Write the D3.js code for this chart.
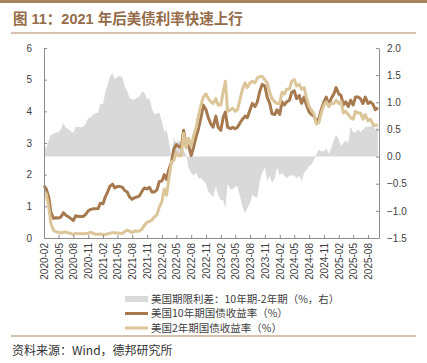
<!DOCTYPE html>
<html>
<head>
<meta charset="utf-8">
<script src="https://cdn.jsdelivr.net/npm/d3@7"></script>
<style>
  body { margin: 0; background: #fff; }
  svg { display: block; font-family: "Liberation Sans", Arial, "Noto Sans CJK SC", sans-serif; }
</style>
</head>
<body>
<svg id="chart" width="427" height="363"></svg>
<script>
// 半月度取值：2020-02-01 起，每月 1 日和 15 日，至 2025-10-01
const startYear = 2020, startMonth = 1, pointCount = 137

const us10y = [
  1.65, 1.55, 1.30, 0.80, 0.62, 0.64, 0.63, 0.66, 0.80, 0.72, 0.67, 0.62, 0.55, 0.70, 0.68, 0.68, 0.68, 0.74, 0.86, 0.90, 0.92, 0.92,
  0.93, 1.10, 1.08, 1.30, 1.45, 1.63, 1.70, 1.58, 1.63, 1.63, 1.60, 1.50, 1.45, 1.30, 1.22, 1.27, 1.30, 1.33, 1.48, 1.58, 1.55, 1.60, 1.45, 1.45,
  1.52, 1.78, 1.80, 2.00, 1.85, 2.15, 2.40, 2.80, 2.95, 2.90, 2.85, 3.40, 2.90, 2.95, 2.60, 2.85, 3.20, 3.45, 3.80, 4.20, 4.05, 3.80, 3.60, 3.50,
  3.85, 3.50, 3.40, 3.80, 3.98, 3.50, 3.45, 3.50, 3.45, 3.50, 3.65, 3.75, 3.85, 3.80, 4.05, 4.25, 4.15, 4.30, 4.65, 4.85, 4.80, 4.45, 4.25, 3.92,
  3.90, 4.05, 3.90, 4.30, 4.20, 4.30, 4.35, 4.60, 4.65, 4.40, 4.50, 4.25, 4.45, 4.20, 3.98, 3.90, 3.85, 3.65, 3.78, 4.05, 4.30, 4.45, 4.20, 4.40,
  4.55, 4.75, 4.55, 4.50, 4.20, 4.30, 4.15, 4.35, 4.20, 4.45, 4.45, 4.40, 4.25, 4.45, 4.25, 4.30, 4.22, 4.05, 4.12
]

const us2y = [
  1.40, 1.40, 1.00, 0.45, 0.23, 0.20, 0.18, 0.16, 0.18, 0.19, 0.16, 0.15, 0.11, 0.15, 0.13, 0.14, 0.13, 0.14, 0.15, 0.18, 0.15, 0.12,
  0.12, 0.13, 0.11, 0.11, 0.13, 0.15, 0.17, 0.16, 0.16, 0.15, 0.14, 0.20, 0.25, 0.22, 0.17, 0.22, 0.21, 0.22, 0.28, 0.40, 0.50, 0.52, 0.57, 0.66,
  0.73, 0.97, 1.16, 1.55, 1.35, 1.85, 2.40, 2.45, 2.70, 2.60, 2.60, 3.30, 2.85, 3.15, 2.90, 3.20, 3.50, 3.85, 4.20, 4.45, 4.55, 4.40, 4.30, 4.25,
  4.40, 4.20, 4.20, 4.60, 4.95, 4.00, 4.05, 4.10, 4.00, 4.05, 4.40, 4.70, 4.90, 4.75, 4.90, 4.95, 4.90, 5.05, 5.10, 5.10, 5.00, 4.90, 4.60, 4.40,
  4.30, 4.25, 4.25, 4.60, 4.55, 4.70, 4.70, 4.95, 5.00, 4.80, 4.85, 4.70, 4.75, 4.45, 4.15, 4.05, 3.90, 3.60, 3.65, 3.95, 4.20, 4.30, 4.15, 4.25,
  4.25, 4.35, 4.25, 4.30, 3.95, 4.00, 3.90, 3.80, 3.75, 4.00, 3.95, 3.95, 3.75, 3.90, 3.70, 3.75, 3.60, 3.55, 3.58
]

const spread = [
  0.20, 0.15, 0.30, 0.40, 0.42, 0.45, 0.45, 0.50, 0.62, 0.53, 0.51, 0.47, 0.44, 0.55, 0.55, 0.54, 0.55, 0.60, 0.71, 0.72, 0.77, 0.80,
  0.81, 0.97, 0.97, 1.19, 1.32, 1.48, 1.53, 1.42, 1.47, 1.48, 1.46, 1.30, 1.20, 1.08, 1.05, 1.05, 1.09, 1.11, 1.20, 1.18, 1.05, 1.08, 0.88, 0.79,
  0.79, 0.81, 0.64, 0.45, 0.50, 0.30, 0.00, 0.35, 0.25, 0.30, 0.25, 0.10, 0.05, -0.20, -0.30, -0.35, -0.30, -0.40, -0.40, -0.45, -0.50, -0.65, -0.70, -0.75,
  -0.55, -0.70, -0.80, -0.80, -0.95, -0.50, -0.60, -0.60, -0.55, -0.55, -0.75, -0.93, -1.05, -0.95, -0.85, -0.70, -0.75, -0.75, -0.45, -0.30, -0.20, -0.45, -0.35, -0.48,
  -0.40, -0.20, -0.35, -0.30, -0.35, -0.40, -0.35, -0.35, -0.35, -0.40, -0.35, -0.45, -0.30, -0.25, -0.17, -0.15, -0.05, 0.05, 0.13, 0.10, 0.10, 0.15, 0.05, 0.15,
  0.30, 0.40, 0.30, 0.20, 0.25, 0.30, 0.25, 0.55, 0.45, 0.45, 0.50, 0.45, 0.50, 0.55, 0.55, 0.55, 0.62, 0.50, 0.55
]

const tickLabels = [
  '2020-02', '2020-05', '2020-08', '2020-11', '2021-02', '2021-05', '2021-08', '2021-11',
  '2022-02', '2022-05', '2022-08', '2022-11', '2023-02', '2023-05', '2023-08', '2023-11',
  '2024-02', '2024-05', '2024-08', '2024-11', '2025-02', '2025-05', '2025-08'
]
const leftTicks = [0, 1, 2, 3, 4, 5, 6]
const rightTicks = [-1.5, -1.0, -0.5, 0.0, 0.5, 1.0, 1.5, 2.0]

const legendItems = [
  { label: '美国期限利差：10年期-2年期（%，右）', type: 'area', color: '#d9d9d9' },
  { label: '美国10年期国债收益率（%）', type: 'line', color: '#a67a4e' },
  { label: '美国2年期国债收益率（%）', type: 'line', color: '#dcc599' }
]

const dates = d3.range(pointCount).map(i => new Date(startYear, startMonth + Math.floor(i / 2), i % 2 ? 15 : 1))
const rows = dates.map((d, i) => ({ date: d, y10: us10y[i], y2: us2y[i], s: spread[i] }))

const svg = d3.select('#chart')
const margin = { left: 44, right: 379, top: 48, bottom: 238 }

// 顶部装饰
svg.append('rect').attr('x', 0).attr('y', 0).attr('width', 427).attr('height', 3).attr('fill', '#a98360')
svg.append('text')
  .attr('x', 13).attr('y', 24)
  .style('font-size', '14.5px').style('font-weight', 'bold')
  .style('fill', '#946c49')
  .text('图 11：2021 年后美债利率快速上行')
svg.append('line').attr('x1', 11).attr('x2', 416).attr('y1', 33).attr('y2', 33)
  .style('stroke', '#a98360').style('stroke-width', 1)

const x = d3.scaleTime()
  .domain([new Date(2020, 1, 1), new Date(2025, 9, 8)])
  .range([margin.left, margin.right])
const yL = d3.scaleLinear().domain([0, 6]).range([margin.bottom, margin.top])
const yR = d3.scaleLinear().domain([-1.5, 2]).range([margin.bottom, margin.top])

// 期限利差面积
const area = d3.area()
  .x(d => x(d.date))
  .y0(yR(0))
  .y1(d => yR(d.s))
svg.append('path').datum(rows)
  .attr('d', area)
  .style('fill', '#d9d9d9')

const line10 = d3.line().x(d => x(d.date)).y(d => yL(d.y10))
const line2 = d3.line().x(d => x(d.date)).y(d => yL(d.y2))

svg.append('path').datum(rows)
  .attr('d', line10)
  .style('fill', 'none').style('stroke', '#a67a4e').style('stroke-width', 3)
  .style('stroke-linejoin', 'round')
svg.append('path').datum(rows)
  .attr('d', line2)
  .style('fill', 'none').style('stroke', '#dcc599').style('stroke-width', 3)
  .style('stroke-linejoin', 'round')

// 坐标轴
const axisColor = '#8c8c8c'
const tickDates = tickLabels.map(s => new Date(+s.slice(0, 4), +s.slice(5) - 1, 1))

const gx = svg.append('g').attr('transform', `translate(0,${margin.bottom})`)
  .call(d3.axisBottom(x).tickValues(tickDates).tickSize(-3).tickSizeOuter(0).tickFormat(d3.timeFormat('%Y-%m')))
gx.selectAll('text')
  .attr('transform', 'rotate(-90)')
  .attr('text-anchor', 'end')
  .attr('x', -5).attr('y', 0).attr('dy', '0.35em')

const gl = svg.append('g').attr('transform', `translate(${margin.left},0)`)
  .call(d3.axisLeft(yL).tickValues(leftTicks).tickSize(-3).tickSizeOuter(0).tickFormat(d3.format('d')).tickPadding(12))

const gr = svg.append('g').attr('transform', `translate(${margin.right},0)`)
  .call(d3.axisRight(yR).tickValues(rightTicks).tickSize(-3).tickSizeOuter(0).tickFormat(d3.format('.1f')).tickPadding(8))

;[gx, gl, gr].forEach(g => {
  g.select('.domain').style('stroke', axisColor)
  g.selectAll('.tick line').style('stroke', axisColor)
  g.selectAll('text').style('font-size', '10px').style('fill', '#404040')
    .style('font-family', '"Liberation Sans", Arial, sans-serif')
})

// 图例
const legend = svg.append('g').attr('transform', 'translate(125,299)')
legendItems.forEach((item, i) => {
  const g = legend.append('g').attr('transform', `translate(0,${i * 14.5})`)
  if (item.type === 'area') {
    g.append('rect').attr('x', 0).attr('y', -3).attr('width', 23).attr('height', 6).style('fill', item.color)
  } else {
    g.append('line').attr('x1', 0).attr('x2', 23).attr('y1', 0).attr('y2', 0)
      .style('stroke', item.color).style('stroke-width', 3)
  }
  g.append('text')
    .attr('x', 26).attr('y', 0).attr('dy', '0.35em')
    .style('font-size', '10.5px').style('fill', '#404040')
    .style('font-family', '"Noto Sans CJK SC", sans-serif')
    .text(item.label)
})

// 底部来源
svg.append('line').attr('x1', 11).attr('x2', 416).attr('y1', 336).attr('y2', 336)
  .style('stroke', '#a98360').style('stroke-width', 1)
svg.append('text')
  .attr('x', 12).attr('y', 355)
  .style('font-size', '12px').style('fill', '#333')
  .style('font-family', '"Noto Sans CJK SC", sans-serif')
  .text('资料来源：Wind，德邦研究所')
</script>
</body>
</html>
